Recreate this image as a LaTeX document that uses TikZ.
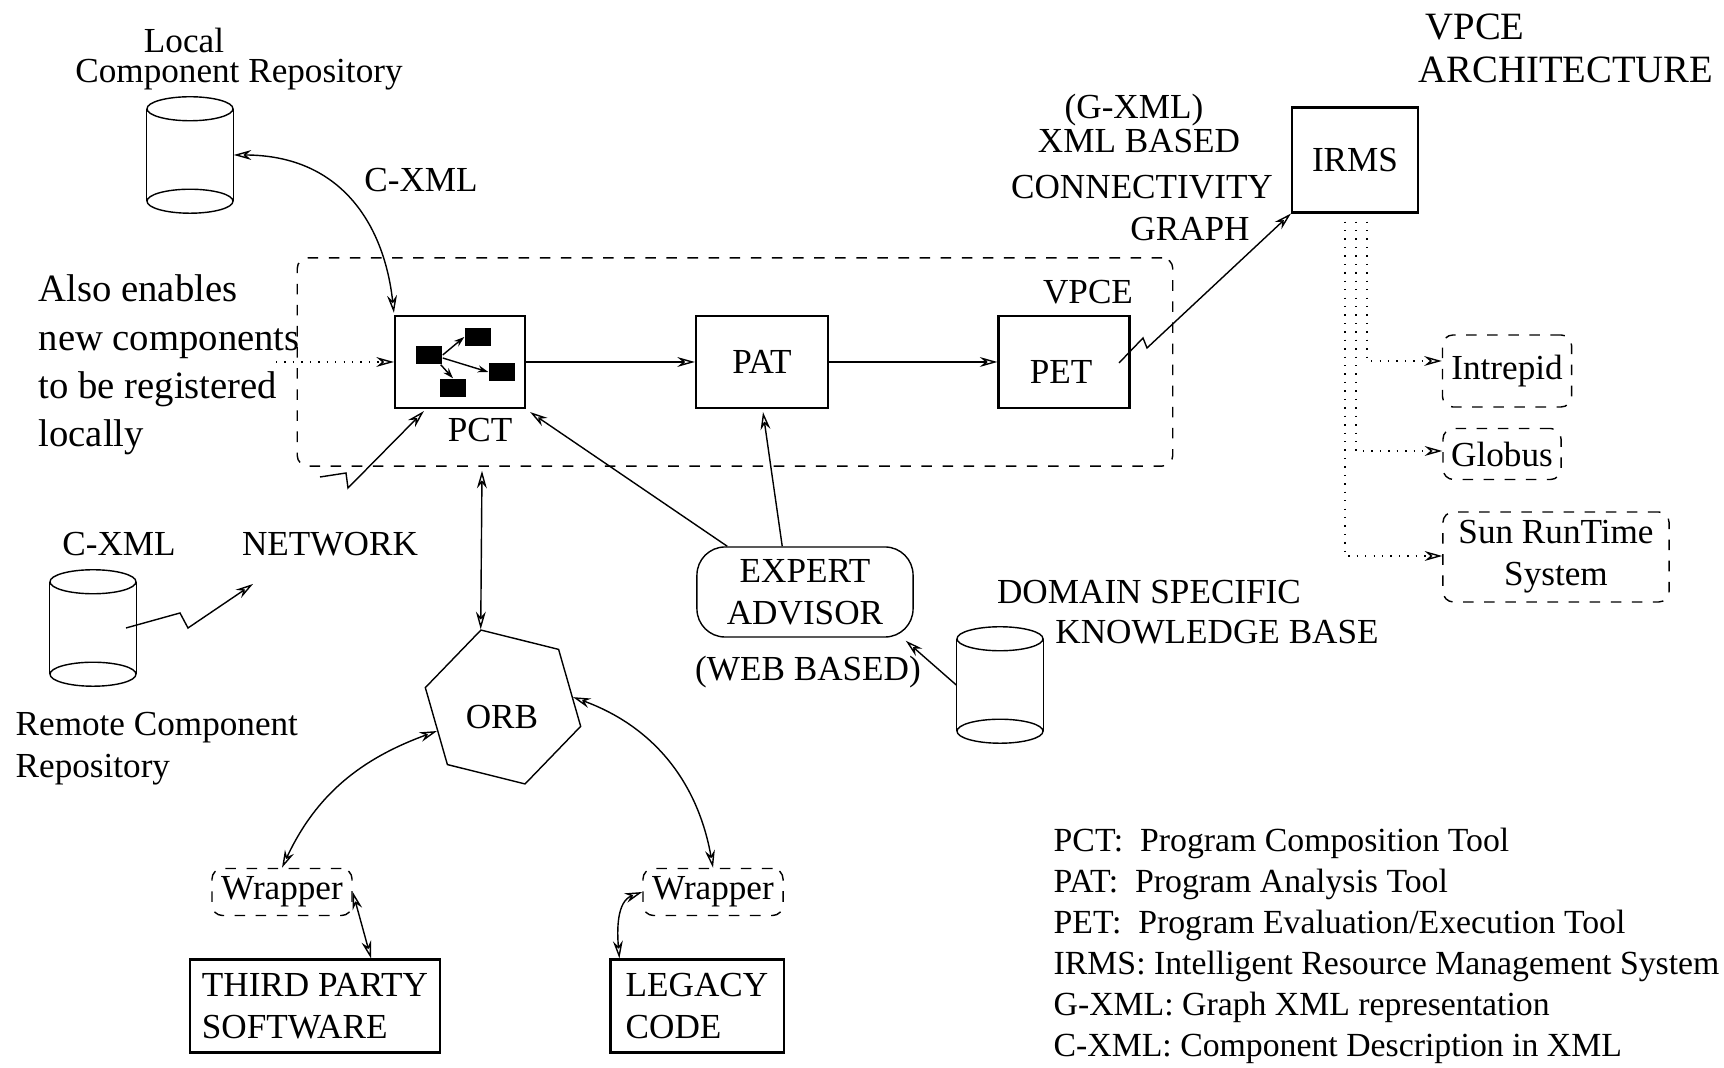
\documentclass[tikz,border=0pt]{standalone}
\usepackage{fontspec}
\setmainfont{Liberation Serif}
\usetikzlibrary{arrows.meta,shapes.geometric,calc,positioning}

\newcommand{\drawdb}[1]{%
  \draw ($(#1.north west)+(0,12)$) -- ($(#1.south west)+(0,-12)$);
  \draw ($(#1.north east)+(0,12)$) -- ($(#1.south east)+(0,-12)$);
  \draw ($(#1.north)+(0,12)$) ellipse (43 and 12);
  \draw ($(#1.south)+(0,-12)$) ellipse (43 and 12);}

\begin{document}
\begin{tikzpicture}[x=0.01cm, y=-0.01cm,
    font=\fontsize{10}{12}\selectfont,
    >={Stealth[open,length=5pt,width=2.8pt]},
    line width=0.4pt,
    box/.style={draw, line width=0.6pt, inner sep=0pt},
    dbox/.style={draw, dashed, rounded corners=3pt, inner sep=0pt},
    db/.style={minimum width=0.86cm, minimum height=1.15cm, inner sep=0pt},
    blk/.style={fill=black, minimum width=0.26cm, minimum height=0.18cm, inner sep=0pt},
    txt/.style={inner sep=0pt, align=left},
    dots/.style={dotted, ->}]

    \useasboundingbox (0,0) rectangle (1724,1068);

    \node[txt] (loc1) at (184,40) {Local};
    \node[txt] (loc2) at (239,75) {Component Repository};
    \node[db] (Local) at (190,155) {};
    \node[txt] (cxml1) at (421,180) {C-XML};

    \node[txt, anchor=west, font=\fontsize{11}{13.7}\selectfont] (also) at (38,365)
        {Also enables\\new components\\to be registered\\locally};

    \node[dbox, minimum width=8.75cm, minimum height=2.08cm] (VPCE) at (735,362) {};
    \node[box, minimum width=1.3cm, minimum height=0.92cm] (PCT) at (460,362) {};
    \node[txt] (pctl) at (480,430) {PCT};
    \node[box, minimum width=1.32cm, minimum height=0.92cm] (PAT) at (762,362) {PAT};
    \node[box, minimum width=1.31cm, minimum height=0.92cm] (PET) at (1064,362) {};
    \node[txt] (petl) at (1061,372) {PET};
    \node[txt] (vpcel) at (1088,292) {VPCE};

    \node[blk] (c1) at ($(PCT)+(-31,-7)$) {};
    \node[blk] (c2) at ($(PCT)+(18,-25)$) {};
    \node[blk] (c3) at ($(PCT)+(42,10)$) {};
    \node[blk] (c4) at ($(PCT)+(-7,26)$) {};

    \node[txt, font=\fontsize{11}{13}\selectfont] (title1) at (1475,27) {VPCE};
    \node[txt, font=\fontsize{11}{13}\selectfont] (title2) at (1566,70) {ARCHITECTURE};

    \node[txt] (g1) at (1134,110) {(G-XML)};
    \node[txt] (g2) at (1139,141) {XML BASED};
    \node[txt] (g3) at (1142,187) {CONNECTIVITY};
    \node[txt] (g4) at (1190,229) {GRAPH};

    \node[box, minimum width=1.26cm, minimum height=1.05cm] (IRMS) at (1355,160) {IRMS};
    \node[dbox, minimum width=1.29cm, minimum height=0.72cm] (Intrepid) at (1507,371) {Intrepid};
    \node[dbox, minimum width=1.18cm, minimum height=0.51cm] (Globus) at (1502,454) {Globus};
    \node[dbox, minimum width=2.26cm, minimum height=0.9cm, align=center] (Sun) at (1556,557)
        {Sun RunTime\\System};

    \node[txt] (cxml2) at (119,544) {C-XML};
    \node[txt] (net) at (330,544) {NETWORK};
    \node[db] (Remote) at (93,628) {};
    \node[txt, anchor=west] (rem) at (15,749) {Remote Component\\Repository};

    \node[draw, regular polygon, regular polygon sides=6, shape border rotate=46,
        minimum size=1.6cm, inner sep=0pt] (ORB) at (503,707) {};
    \node[txt] (orbl) at (502,717) {ORB};

    \node[draw, rounded corners=8pt, minimum width=2.16cm, minimum height=0.9cm,
        align=center, inner sep=0pt] (Expert) at (805,592) {EXPERT\\ADVISOR};
    \node[txt] (web) at (808,672) {(WEB BASED)};
    \node[db] (Domain) at (1000,685) {};
    \node[txt] (dom1) at (1149,592) {DOMAIN SPECIFIC};
    \node[txt] (dom2) at (1217,632) {KNOWLEDGE BASE};

    \node[dbox, minimum width=1.4cm, minimum height=0.47cm] (Wrap1) at (282,892) {Wrapper};
    \node[dbox, minimum width=1.4cm, minimum height=0.47cm] (Wrap2) at (713,892) {Wrapper};
    \node[box, minimum width=2.5cm, minimum height=0.93cm, align=left] (Third) at (315,1006)
        {THIRD PARTY\\SOFTWARE};
    \node[box, minimum width=1.73cm, minimum height=0.93cm, align=left] (Legacy) at (697,1006)
        {LEGACY\\CODE};

    \node[txt, anchor=west, font=\fontsize{9.6}{11.66}\selectfont] (legend) at (1053,946)
        {PCT:\ \ Program Composition Tool\\
         PAT:\ \ Program Analysis Tool\\
         PET:\ \ Program Evaluation/Execution Tool\\
         IRMS: Intelligent Resource Management System\\
         G-XML: Graph XML representation\\
         C-XML: Component Description in XML};

    \drawdb{Local}
    \drawdb{Remote}
    \drawdb{Domain}

    \coordinate (reg) at (276,362);
    \coordinate (netin) at (320,477);
    \coordinate (netout) at (253,584);

    \draw[<->] (Local.east) .. controls (345,155) and (385,230) .. ($(PCT.north west)+(0,-2)$);
    \draw[dots] (reg) -- (PCT.west);
    \draw[->] (netin) -- ++(26,-4) -- ++(2,15) -- ($(PCT.south west)+(30,2)$);

    \draw[->, >={Stealth[open,length=3pt,width=2pt]}] (c1.east) -- (c2.west);
    \draw[->, >={Stealth[open,length=3pt,width=2pt]}] ($(c1.east)+(0,3)$) -- (c3.west);
    \draw[->, >={Stealth[open,length=3pt,width=2pt]}] ($(c1.south east)+(-2,0)$) -- (c4.north);

    \draw[->] (PCT.east) -- (PAT.west);
    \draw[->] (PAT.east) -- (PET.west);
    \draw[->] ($(PET)+(55,1)$) -- ++(24,-25) -- ++(4,10) -- (IRMS.south west);

    \draw[dots] ($(IRMS.south)+(12,8)$) |- ($(Intrepid.west)+(0,-10)$);
    \draw[dots] ($(IRMS.south)+(1,8)$) |- ($(Globus.west)+(0,-3)$);
    \draw[dots] ($(IRMS.south)+(-10,8)$) |- ($(Sun.west)+(0,-1)$);

    \draw[->] ($(Expert.north west)+(31,0)$) -- ($(PCT.south east)+(4,3)$);
    \draw[->] ($(Expert.north west)+(86,0)$) -- ($(PAT.south)+(1,3)$);
    \draw[->] (Domain.west) -- ($(Expert.south east)+(-8,3)$);

    \draw[<->] ($(PCT.south |- VPCE.south)+(22,4)$) -- (ORB.corner 1);
    \draw[<->] (ORB.200) to[out=200, in=65] (Wrap1.north);
    \draw[<->] (ORB.8) to[out=-20, in=100] (Wrap2.north);
    \draw[<->] (Wrap1.east) -- ($(Third.north)+(56,0)$);
    \draw[<->] (Wrap2.west) to[out=200, in=95] ($(Legacy.north west)+(10,0)$);

    \draw[->] ($(Remote)+(33,0)$) -- ++(54,-15) -- ++(8,15) -- (netout);

\end{tikzpicture}
\end{document}
